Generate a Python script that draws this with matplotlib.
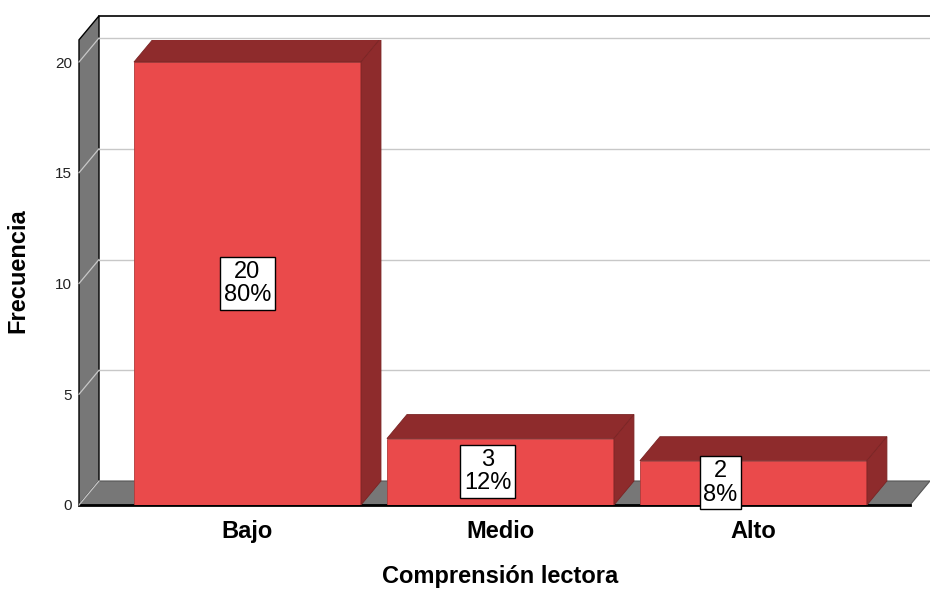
import matplotlib
matplotlib.use("Agg")
import matplotlib.pyplot as plt
from matplotlib.patches import Polygon
import numpy as np

plt.rcParams['font.family'] = ['Liberation Sans', 'DejaVu Sans']

categories = ["Bajo", "Medio", "Alto"]
counts = [20, 3, 2]
yticks = [0, 5, 10, 15, 20]
x_title = "Comprensión lectora"
y_title = "Frecuencia"

W, H = 930, 589
fig = plt.figure(figsize=(W / 100, H / 100), dpi=100)
fig.patch.set_facecolor("white")

# front plane geometry (pixels)
px_left, px_right, px_base = 79, 930, 505
px_per_unit = 22.15
ymax = 21
ax = fig.add_axes([px_left / W, (H - px_base) / H, (px_right - px_left) / W,
                   ymax * px_per_unit / H])
ax.set_ylim(0, ymax)
ax.set_xlim(-0.666, 2.698)
ax.set_facecolor("none")
for s in ax.spines.values():
    s.set_visible(False)

# depth offset in data units
x_unit_px = (px_right - px_left) / (2.698 + 0.666)
DX = 20 / x_unit_px
DY = 24 / px_per_unit
x0, x1 = ax.get_xlim()
floor_right = x1 - DX

wall_col = "#777777"
grid_col = "#c8c8c8"
front_col = "#ea4a4b"
dark_col = "#8e2b2c"

# back wall
ax.add_patch(Polygon([(x0 + DX, DY), (x1 + 0.2, DY), (x1 + 0.2, ymax + DY), (x0 + DX, ymax + DY)],
                     closed=True, facecolor="white", edgecolor="none", clip_on=False, zorder=1))
ax.plot([x0 + DX, x1 + 0.2], [ymax + DY, ymax + DY], color="black", lw=1.2, clip_on=False, zorder=2)
# left wall
ax.add_patch(Polygon([(x0, 0), (x0, ymax), (x0 + DX, ymax + DY), (x0 + DX, DY)],
                     closed=True, facecolor=wall_col, edgecolor="black", lw=1.0, clip_on=False, zorder=2))
# floor
ax.add_patch(Polygon([(x0, 0), (floor_right, 0), (x1, DY), (x0 + DX, DY)],
                     closed=True, facecolor=wall_col, edgecolor="#555555", lw=0.8, clip_on=False, zorder=2))
ax.plot([x0, floor_right], [0, 0], color="black", lw=2.0, clip_on=False, zorder=3)
ax.plot([x0, x0 + DX], [0, DY], color=grid_col, lw=0.9, clip_on=False, zorder=3)

# gridlines
for t in yticks[1:]:
    ax.plot([x0, x0 + DX], [t, t + DY], color=grid_col, lw=0.9, clip_on=False, zorder=3)
    ax.plot([x0 + DX, x1 + 0.2], [t + DY, t + DY], color=grid_col, lw=1.0, clip_on=False, zorder=3)

# bars
bw = 227 / x_unit_px
total = sum(counts)
label_shift = [0.0, -0.05, -0.13]
for i, (c, v) in enumerate(zip(categories, counts)):
    a, b = i - bw / 2, i + bw / 2
    ax.add_patch(Polygon([(a, 0), (b, 0), (b, v), (a, v)], closed=True,
                         facecolor=front_col, edgecolor="#b03a3a", lw=0.6, zorder=5))
    ax.add_patch(Polygon([(a, v), (b, v), (b + DX, v + DY), (a + DX, v + DY)], closed=True,
                         facecolor=dark_col, edgecolor="#7a2424", lw=0.6, zorder=5))
    ax.add_patch(Polygon([(b, 0), (b + DX, DY), (b + DX, v + DY), (b, v)], closed=True,
                         facecolor=dark_col, edgecolor="#7a2424", lw=0.6, zorder=5))
    pct = round(100 * v / total)
    ax.text(i + label_shift[i], v / 2, f"{v}\n{pct}%", ha="center", va="center",
            fontsize=17, linespacing=1.08, color="black", zorder=8,
            bbox=dict(boxstyle="square,pad=0.16", facecolor="white", edgecolor="black", lw=1.0))

ax.set_yticks(yticks)
ax.set_yticklabels([str(t) for t in yticks], fontsize=11, color="#222222")
ax.set_xticks(range(len(categories)))
ax.set_xticklabels(categories, fontsize=17, fontweight="bold")
ax.tick_params(axis="both", length=0)
ax.tick_params(axis="y", pad=5)
ax.tick_params(axis="x", pad=10.5)

fig.text(18 / W, 1 - 271 / H, y_title, rotation=90, ha="center", va="center",
         fontsize=17, fontweight="bold")
fig.text(500 / W, 1 - 576 / H, x_title, ha="center", va="center",
         fontsize=17, fontweight="bold")

fig.savefig("out.png", dpi=100)
